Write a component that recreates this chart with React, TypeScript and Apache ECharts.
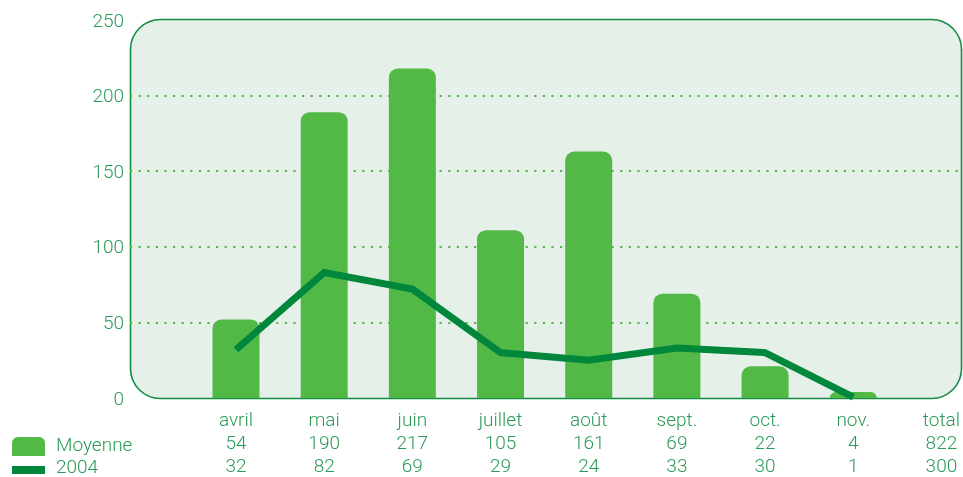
import React, { useEffect, useRef } from "react";
import * as echarts from "echarts";

const categories = ["avril", "mai", "juin", "juillet", "août", "sept.", "oct.", "nov.", "total"];
const moyenneBars = [52, 189, 218, 111, 163, 69, 21, 4];
const line2004 = [32, 83, 72, 30, 25, 33, 30, 0.5];
const moyenneLabels = ["54", "190", "217", "105", "161", "69", "22", "4", "822"];
const labels2004 = ["32", "82", "69", "29", "24", "33", "30", "1", "300"];
const yTicks = [0, 50, 100, 150, 200, 250];
const seriesNames = ["Moyenne", "2004"];

const TEXT = "#2a9a57";
const BAR = "#52b947";
const LINE = "#00873c";
const FONT = "Roboto";
const FS = 19;

export default function App() {
  const ref = useRef<HTMLDivElement>(null);
  useEffect(() => {
    if (!ref.current) return;
    const chart = echarts.init(ref.current, null, { renderer: "svg" });
    const labelStyle = { color: TEXT, fontFamily: FONT, fontSize: FS, fontWeight: 300 };
    const catAxis = (data: string[], offset: number) => ({
      type: "category",
      gridIndex: 0,
      position: "bottom",
      boundaryGap: false,
      offset,
      data,
      axisLine: { show: false },
      axisTick: { show: false },
      splitLine: { show: false },
      axisLabel: { ...labelStyle, margin: 12, interval: 0 },
    });
    chart.setOption({
      animation: false,
      grid: [
        { left: 236, right: 21, top: 20, bottom: 79 },
        { left: 130, right: 3, top: 20, bottom: 79 },
      ],
      xAxis: [
        catAxis(categories, 0),
        catAxis(moyenneLabels, 23),
        catAxis(labels2004, 46),
        { type: "value", gridIndex: 1, show: false, min: 0, max: 1 },
      ],
      yAxis: [
        { type: "value", gridIndex: 0, min: yTicks[0], max: yTicks[yTicks.length - 1], interval: 50, show: false },
        {
          type: "value",
          gridIndex: 1,
          min: yTicks[0],
          max: yTicks[yTicks.length - 1],
          interval: 50,
          axisLine: { show: false },
          axisTick: { show: false },
          axisLabel: { ...labelStyle, margin: 6 },
          splitLine: {
            show: true,
            showMinLine: false,
            showMaxLine: false,
            lineStyle: { color: BAR, width: 2.2, type: [2.2, 6.4] },
          },
        },
      ],
      graphic: [
        {
          type: "rect",
          z: -10,
          shape: { x: 130.5, y: 19.5, width: 831, height: 379, r: 30 },
          style: { fill: "#e5f0e8", stroke: "#138d44", lineWidth: 1.6 },
        },
        {
          type: "rect",
          shape: { x: 12, y: 437, width: 33, height: 19, r: [6, 6, 0, 0] },
          style: { fill: BAR },
        },
        {
          type: "rect",
          shape: { x: 12, y: 466, width: 33, height: 8 },
          style: { fill: LINE },
        },
        {
          type: "text",
          x: 56,
          y: 444,
          style: { text: seriesNames[0], fill: TEXT, font: `300 ${FS}px ${FONT}`, verticalAlign: "middle" },
        },
        {
          type: "text",
          x: 56,
          y: 466,
          style: { text: seriesNames[1], fill: TEXT, font: `300 ${FS}px ${FONT}`, verticalAlign: "middle" },
        },
      ],
      series: [
        {
          name: seriesNames[0],
          type: "bar",
          xAxisIndex: 0,
          yAxisIndex: 0,
          data: moyenneBars,
          barWidth: 47,
          clip: false,
          itemStyle: { color: BAR, borderRadius: [9, 9, 0, 0] },
          z: 3,
        },
        {
          name: seriesNames[1],
          type: "line",
          xAxisIndex: 0,
          yAxisIndex: 0,
          data: line2004,
          symbol: "none",
          clip: false,
          lineStyle: { color: LINE, width: 7, cap: "butt", join: "miter" },
          z: 4,
        },
      ],
    });
    return () => chart.dispose();
  }, []);
  return (
    <div
      ref={ref}
      style={{ position: "fixed", left: 0, top: 0, width: 963, height: 477 }}
    />
  );
}
